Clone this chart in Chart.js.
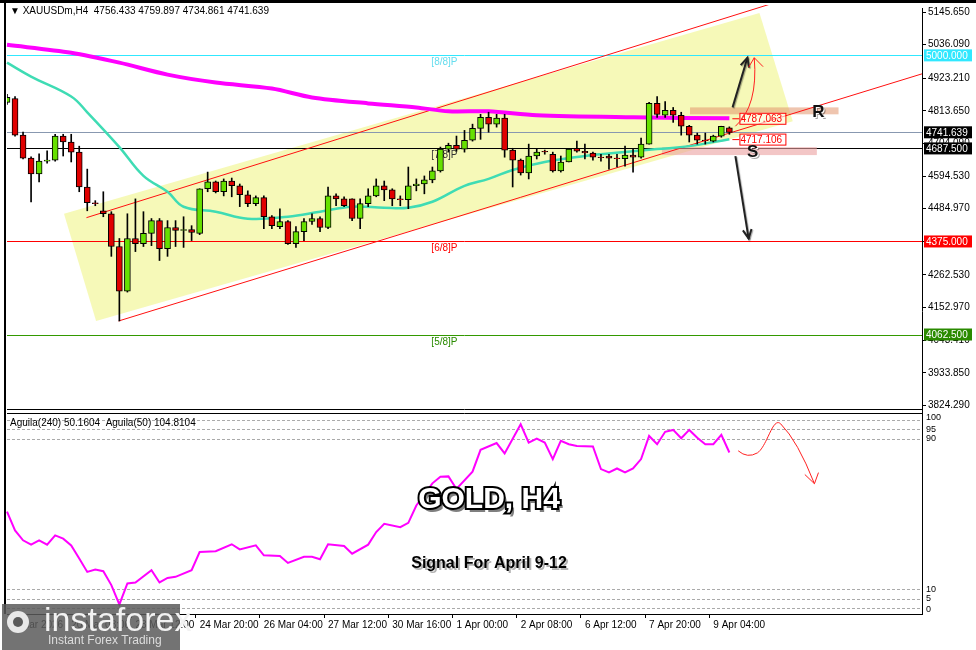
<!DOCTYPE html>
<html><head><meta charset="utf-8">
<script src="https://cdn.jsdelivr.net/npm/chart.js@4"></script>
<style>html,body{margin:0;padding:0;background:#fff}#wrap{width:976px;height:650px;position:relative}</style>
</head><body><div id="wrap"><canvas id="c" width="976" height="650"></canvas></div>
<script>
// ---------- DATA ----------
const dateTicks = {0:'19 Mar 2026',8:'20 Mar 08:00',16:'23 Mar 12:00',24:'24 Mar 20:00',32:'26 Mar 04:00',40:'27 Mar 12:00',48:'30 Mar 16:00',56:'1 Apr 00:00',64:'2 Apr 08:00',72:'6 Apr 12:00',80:'7 Apr 20:00',88:'9 Apr 04:00'};
const openP = [4842,4855,4732,4655,4602,4645,4648,4729,4709,4675,
4558,4505,4478,4468,4358,4208,4385,4368,4402,4445,
4351,4422,4412,4415,4402,4552,4575,4542,4578,4562,
4532,4502,4522,4458,4425,4442,4368,4408,4442,4452,
4422,4528,4518,4518,4452,4502,4528,4562,4548,4518,
4515,4562,4568,4582,4612,4685,4698,4685,4715,4755,
4792,4769,4789,4682,4648,4605,4662,4678,4668,4612,
4642,4688,4678,4672,4658,4662,4655,4653,4665,4658,
4702,4839,4799,4815,4799,4762,4732,4715,4712,4729,4756.433];
const highP = [4869,4862,4742,4659,4669,4679,4735,4735,4735,4695,
4618,4512,4542,4475,4385,4468,4518,4475,4452,4452,
4445,4445,4458,4428,4552,4608,4578,4585,4588,4568,
4545,4528,4528,4462,4485,4445,4425,4452,4468,4458,
4558,4535,4525,4518,4518,4552,4585,4578,4552,4528,
4625,4585,4595,4625,4692,4705,4729,4748,4769,4802,
4809,4802,4802,4688,4652,4702,4685,4682,4675,4662,
4688,4712,4702,4675,4668,4668,4668,4695,4685,4722,
4842,4862,4845,4825,4809,4765,4739,4739,4732,4762,4759.897];
const lowP = [4835,4729,4652,4508,4575,4638,4645,4662,4642,4542,
4478,4495,4458,4325,4108,4205,4341,4358,4361,4311,
4325,4358,4355,4378,4398,4542,4538,4528,4525,4492,
4492,4495,4418,4418,4418,4365,4355,4378,4432,4408,
4418,4495,4492,4445,4418,4492,4525,4512,4495,4495,
4485,4545,4535,4572,4608,4675,4678,4675,4712,4718,
4742,4759,4658,4558,4598,4585,4652,4668,4608,4608,
4642,4675,4652,4648,4645,4618,4625,4628,4608,4655,
4702,4792,4792,4775,4732,4709,4702,4702,4709,4725,4734.861];
const closeP = [4859,4732,4655,4602,4645,4648,4729,4709,4675,4558,
4505,4502,4468,4358,4208,4385,4368,4402,4445,4351,
4422,4412,4415,4405,4552,4575,4542,4578,4562,4532,
4502,4522,4458,4428,4442,4368,4408,4442,4452,4422,
4528,4518,4495,4452,4502,4528,4562,4548,4518,4515,
4562,4568,4582,4612,4685,4698,4685,4715,4755,4792,
4769,4789,4682,4648,4605,4662,4675,4676,4612,4642,
4685,4678,4672,4658,4656,4655,4653,4665,4658,4702,
4839,4802,4815,4799,4762,4732,4715,4714,4729,4762,4741.639];
// moving averages, read at key candles
const maSlowPts = {0:5035.5,8:5008.8,14:4975.5,20:4935.4,26:4908.7,33:4888.7,38:4858.7,45:4838.7,51:4825.3,55:4812,60:4812,66:4798.6,78:4791.9,90:4788.6};
const maFastPts = {0:4975.5,3:4928.8,8:4862,10:4808.6,14:4691.8,17:4595.1,20:4541.7,22:4491.6,26:4474.9,30:4451.6,35:4458.2,39:4474.9,43:4491.6,47:4488.3,50:4488.3,53:4508.3,57:4561.7,60:4585.1,63:4615.1,67:4641.8,72:4661.8,77:4675.1,81:4685.2,85:4695.2,90:4718.5};
const oscPts = {0:51.3,1:41.3,2:36.0,3:33.7,4:36.0,5:33.7,6:38.6,7:36.9,8:33.3,9:26.3,10:19.2,11:20.5,12:19.6,13:12.2,14:1.9,15:13.1,16:13.6,18:20.1,19:13.6,20:16.0,21:16.6,23:20.1,24:29.8,26:30.2,28:33.9,29:31.2,31:33.3,32:28.0,34:27.7,35:24.0,37:27.2,38:27.2,39:25.9,40:33.9,42:33.0,43:28.9,45:33.7,46:40.4,47:44.8,49:43.0,50:45.3,51:54.5,53:66.3,54:69.8,55:70.0,56:63.3,58:72.5,59:84.1,61:87.7,62:82.2,64:97.7,65:88.0,66:90.1,67:88.0,68:79.2,69:88.9,70:87.1,71:86.2,73:85.9,74:73.9,75:72.1,76:74.2,77:72.1,78:74.2,79:79.2,80:91.5,81:87.1,82:93.7,83:94.7,84:90.3,85:94.7,86:90.5,87:87.1,88:87.1,89:92.1,90:82.7};
const priceTicks = [5145.65,5036.09,4923.21,4813.65,4704.09,4594.53,4484.97,4375.41,4262.53,4152.97,4043.41,3933.85,3824.29];
const oscLevels = [100,95,90,10,5,0];
const levels = [
  {v:5000.0, color:'#30e8ff', label:'5000.000', tag:'[8/8]P', tagColor:'#66ddee'},
  {v:4741.639, color:'#8898b0', label:'4741.639', box:'#000'},
  {v:4687.5, color:'#000000', label:'4687.500', box:'#000', tag:'[7/8]P', tagColor:'#333'},
  {v:4375.0, color:'#ff0000', label:'4375.000', box:'#ff0000', tag:'[6/8]P', tagColor:'#ff0000'},
  {v:4062.5, color:'#339900', label:'4062.500', box:'#2a8a00', tag:'[5/8]P', tagColor:'#2a8a00'}
];
const channelUpper = [[9.9,4454.9],[95.5,5175.7]];
const channelLower = [[13.9,4107.9],[114.5,4942.1]];
const channelBox = [[7.1,4468.2],[11.1,4107.9],[97.9,4778.6],[93.75,5142.3]];
const resZone = [85.1,103.6,4825.3,4802.0];
const supZone = [81.6,100.9,4691.8,4665.1];
const resLevel = 4787.063, supLevel = 4717.106;

// ---------- BUILD ----------
const N = 115;
const labels = Array.from({length:N},(_,i)=>dateTicks[i]||'');
const fromPts = p => Array.from({length:N},(_,i)=> p[i]===undefined?null:p[i]);
const up = i => closeP[i]>=openP[i];
const bodies = closeP.map((c,i)=>{const a=Math.min(openP[i],c),b=Math.max(openP[i],c);return b-a<1.5?[a-0.8,b+0.8]:[a,b];});
const wicks = closeP.map((c,i)=>[lowP[i],highP[i]]);

const T = 5, B = 614, L = 7, R = 922;
const yMax = 5175.8-3.342*T, yMin = 5175.8-3.342*B;
const oTop = 100+(419-T)/1.89, oBot = -(B-608)/1.89;

const ann = {
  id:'ann',
  beforeDatasetsDraw(ch){
    const c=ch.ctx,x=ch.scales.x,y=ch.scales.y;
    const X=i=>x.getPixelForValue(i),Y=v=>y.getPixelForValue(v);
    c.save(); c.beginPath(); c.rect(L,T,R-L,409-T); c.clip();
    c.fillStyle='rgba(243,247,160,0.75)';
    c.beginPath(); channelBox.forEach((p,k)=>k?c.lineTo(X(p[0]),Y(p[1])):c.moveTo(X(p[0]),Y(p[1]))); c.closePath(); c.fill();
    levels.forEach(l=>{c.strokeStyle=l.color;c.lineWidth=1;c.beginPath();c.moveTo(L,Math.round(Y(l.v))+0.5);c.lineTo(R,Math.round(Y(l.v))+0.5);c.stroke();});
    c.font='10px "Liberation Sans"'; c.textAlign='center';
    levels.forEach(l=>{if(l.tag){c.fillStyle=l.tagColor;c.fillText(l.tag,X(54.5),Y(l.v)+10);}});
    c.fillStyle='rgba(225,150,110,0.55)';
    c.fillRect(X(resZone[0]),Y(resZone[2]),X(resZone[1])-X(resZone[0]),Y(resZone[3])-Y(resZone[2]));
    c.fillStyle='rgba(235,160,160,0.6)';
    c.fillRect(X(supZone[0]),Y(supZone[2]),X(supZone[1])-X(supZone[0]),Y(supZone[3])-Y(supZone[2]));
    c.strokeStyle='#ff1010'; c.lineWidth=1;
    [channelUpper,channelLower].forEach(s=>{c.beginPath();c.moveTo(X(s[0][0]),Y(s[0][1]));c.lineTo(X(s[1][0]),Y(s[1][1]));c.stroke();});
    c.restore();
    c.save(); c.strokeStyle='#000'; c.lineWidth=1;
    c.fillStyle='#fff'; c.fillRect(L,409,R-L,4);
    c.beginPath(); c.moveTo(L,409.5); c.lineTo(R,409.5); c.moveTo(L,413.5); c.lineTo(R,413.5); c.stroke();
    c.strokeStyle='#aaa'; c.setLineDash([3,2]);
    const y2=ch.scales.y2;
    oscLevels.forEach(v=>{const yy=Math.round(y2.getPixelForValue(v))+0.5;c.beginPath();c.moveTo(L,yy);c.lineTo(R,yy);c.stroke();});
    c.restore();
  },
  afterDatasetsDraw(ch){
    const c=ch.ctx,x=ch.scales.x,y=ch.scales.y,y2=ch.scales.y2;
    const X=i=>x.getPixelForValue(i),Y=v=>y.getPixelForValue(v),Y2=v=>y2.getPixelForValue(v);
    c.save();
    c.font='10px "Liberation Sans"'; c.textAlign='left'; c.textBaseline='middle';
    [[resLevel,'4787.063'],[supLevel,'4717.106']].forEach(([v,t])=>{
      const yy=Y(v); c.strokeStyle='#ff0000'; c.lineWidth=1;
      c.beginPath(); c.moveTo(X(90)+3,yy); c.lineTo(X(91.25),yy); c.stroke();
      c.fillStyle='rgba(255,255,255,0.6)'; c.fillRect(X(91.25),yy-6,46,12);
      c.strokeRect(X(91.25)+0.5,yy-5.5,46,11); c.fillStyle='#ff0000'; c.fillText(t,X(91.25)+1,yy+0.5);
    });
    const arrow=(x0,y0,x1,y1,col,w,hl)=>{c.strokeStyle=col;c.lineWidth=w;c.beginPath();c.moveTo(x0,y0);c.lineTo(x1,y1);c.stroke();
      const a=Math.atan2(y1-y0,x1-x0);c.beginPath();c.moveTo(x1-hl*Math.cos(a-0.45),y1-hl*Math.sin(a-0.45));c.lineTo(x1,y1);c.lineTo(x1-hl*Math.cos(a+0.45),y1-hl*Math.sin(a+0.45));c.stroke();};
    c.shadowColor='rgba(0,0,0,0.35)'; c.shadowOffsetX=1; c.shadowOffsetY=1; c.shadowBlur=1;
    arrow(X(90.4),Y(4825.3),X(92.25),Y(4992.1),'#222',2,10);
    arrow(X(90.75),Y(4661.8),X(92.4),Y(4384.8),'#222',2,10);
    c.shadowColor='transparent';
    c.strokeStyle='#ff2020'; c.lineWidth=1;
    c.beginPath(); c.moveTo(X(90.75),Y(4761.9)); c.quadraticCurveTo(X(93.6),Y(4830),X(93.1),Y(4992.1)); c.stroke();
    c.beginPath(); c.moveTo(X(92.4),Y(4960)); c.lineTo(X(93.1),Y(4992.1)); c.lineTo(X(94.2),Y(4962)); c.stroke();
    c.beginPath(); c.moveTo(X(91.1),Y2(83.6)); c.quadraticCurveTo(X(92.25),Y2(79.4),X(93.5),Y2(82.5));
    c.bezierCurveTo(X(94.75),Y2(86.2),X(95.4),Y2(102.1),X(96.4),Y2(97.9));
    c.quadraticCurveTo(X(98.5),Y2(88.9),X(100.6),Y2(66.1)); c.stroke();
    c.beginPath(); c.moveTo(X(99.4),Y2(71)); c.lineTo(X(100.6),Y2(66.1)); c.lineTo(X(101.1),Y2(72)); c.stroke();
    c.font='bold 17px "Liberation Sans"'; c.textAlign='center';
    const shTxt=(t,px,py)=>{c.fillStyle='rgba(0,0,0,0.35)';c.fillText(t,px+2,py+2);c.fillStyle='#fff';c.fillText(t,px+1,py+1);c.fillStyle='#111';c.fillText(t,px,py);};
    shTxt('R',X(101.1),Y(4808.6)); shTxt('S',X(92.9),Y(4675));
    c.restore();
  },
  afterDraw(ch){
    const c=ch.ctx,y=ch.scales.y,y2=ch.scales.y2;
    c.save();
    c.fillStyle='#000'; c.fillRect(0,0,976,3); c.fillRect(4,0,2,614);
    c.font='10px "Liberation Sans"'; c.textBaseline='middle'; c.textAlign='left';
    levels.forEach(l=>{const yy=y.getPixelForValue(l.v);
      c.fillStyle=l.box||l.color; c.fillRect(R+2,yy-6,48,12);
      c.fillStyle='#fff'; c.fillText(l.label,R+4,yy+0.5);});
    c.fillStyle='#000'; c.font='9px "Liberation Sans"';
    oscLevels.forEach(v=>{c.fillText(String(v),R+4,y2.getPixelForValue(v)+ (v===100?-2:v===0?1:0));});
    c.font='10px "Liberation Sans"'; c.fillStyle='#000';
    c.fillText('▼ XAUUSDm,H4  4756.433 4759.897 4734.861 4741.639',10,11);
    c.fillText('Aguila(240) 50.1604  Aguila(50) 104.8104',10,423);
    c.textAlign='center';
    c.font='bold 30px "Liberation Sans"';
    c.fillStyle='rgba(0,0,0,0.5)'; c.fillText('GOLD, H4',492,504);
    c.lineWidth=4; c.strokeStyle='#000'; c.strokeText('GOLD, H4',489,500);
    c.fillStyle='#fff'; c.fillText('GOLD, H4',489,500);
    c.font='bold 16px "Liberation Sans"';
    c.fillStyle='rgba(0,0,0,0.3)'; c.fillText('Signal For April 9-12',491,566);
    c.fillStyle='#000'; c.fillText('Signal For April 9-12',489,564);
    c.fillStyle='rgba(90,90,90,0.85)'; c.fillRect(2,604,178,46);
    c.fillStyle='#e8e8e8'; c.beginPath(); c.arc(18,622,11,0,Math.PI*2); c.fill();
    c.fillStyle='rgba(90,90,90,1)'; c.beginPath(); c.arc(18,622,5,0,Math.PI*2); c.fill();
    c.fillStyle='#f2f2f2'; c.textAlign='left'; c.font='34px "Liberation Sans"'; c.fillText('instaforex',44,622);
    c.font='12px "Liberation Sans"'; c.fillStyle='#ddd'; c.fillText('Instant Forex Trading',48,641);
    c.restore();
  }
};

new Chart(document.getElementById('c'),{
  data:{labels,datasets:[
    {type:'line',label:'Aguila(240)',data:fromPts(maSlowPts),borderColor:'#ff00ff',borderWidth:4,pointRadius:0,spanGaps:true,tension:0.3,order:3,yAxisID:'y'},
    {type:'line',label:'Aguila(50)',data:fromPts(maFastPts),borderColor:'#3fdcb4',borderWidth:2.5,pointRadius:0,spanGaps:true,tension:0.4,order:3,yAxisID:'y'},
    {type:'bar',label:'wick',data:wicks,backgroundColor:'#000',barThickness:1,grouped:false,order:2,yAxisID:'y'},
    {type:'bar',label:'body',data:bodies,backgroundColor:closeP.map((c,i)=>up(i)?'#66e000':'#e00000'),borderColor:'#000',borderWidth:1,borderSkipped:false,barThickness:6,grouped:false,order:1,yAxisID:'y'},
    {type:'line',label:'osc',data:fromPts(oscPts),borderColor:'#ff00ff',borderWidth:2,pointRadius:0,spanGaps:true,tension:0,order:0,yAxisID:'y2'}
  ]},
  options:{
    responsive:false,animation:false,
    layout:{padding:{left:L,top:T,right:0,bottom:0}},
    plugins:{legend:{display:false},tooltip:{enabled:false}},
    scales:{
      x:{offset:false,grid:{drawOnChartArea:false,tickLength:4,color:c=>labels[c.index]?'#000':'transparent'},border:{color:'#000'},
        ticks:{autoSkip:false,maxRotation:0,align:'start',color:'#000',font:{family:'Liberation Sans',size:10},padding:1},
        afterFit(s){s.height=650-B;}},
      y:{position:'right',min:yMin,max:yMax,grid:{drawOnChartArea:false,tickLength:4,color:'#000'},border:{color:'#000'},
        afterBuildTicks(s){s.ticks=priceTicks.map(v=>({value:v}));},
        ticks:{color:'#000',font:{family:'Liberation Sans',size:10},padding:2,callback:v=>v.toFixed(3)},
        afterFit(s){s.width=976-R;}},
      y2:{display:false,min:oBot,max:oTop}
    }
  },
  plugins:[ann]
});
</script></body></html>
